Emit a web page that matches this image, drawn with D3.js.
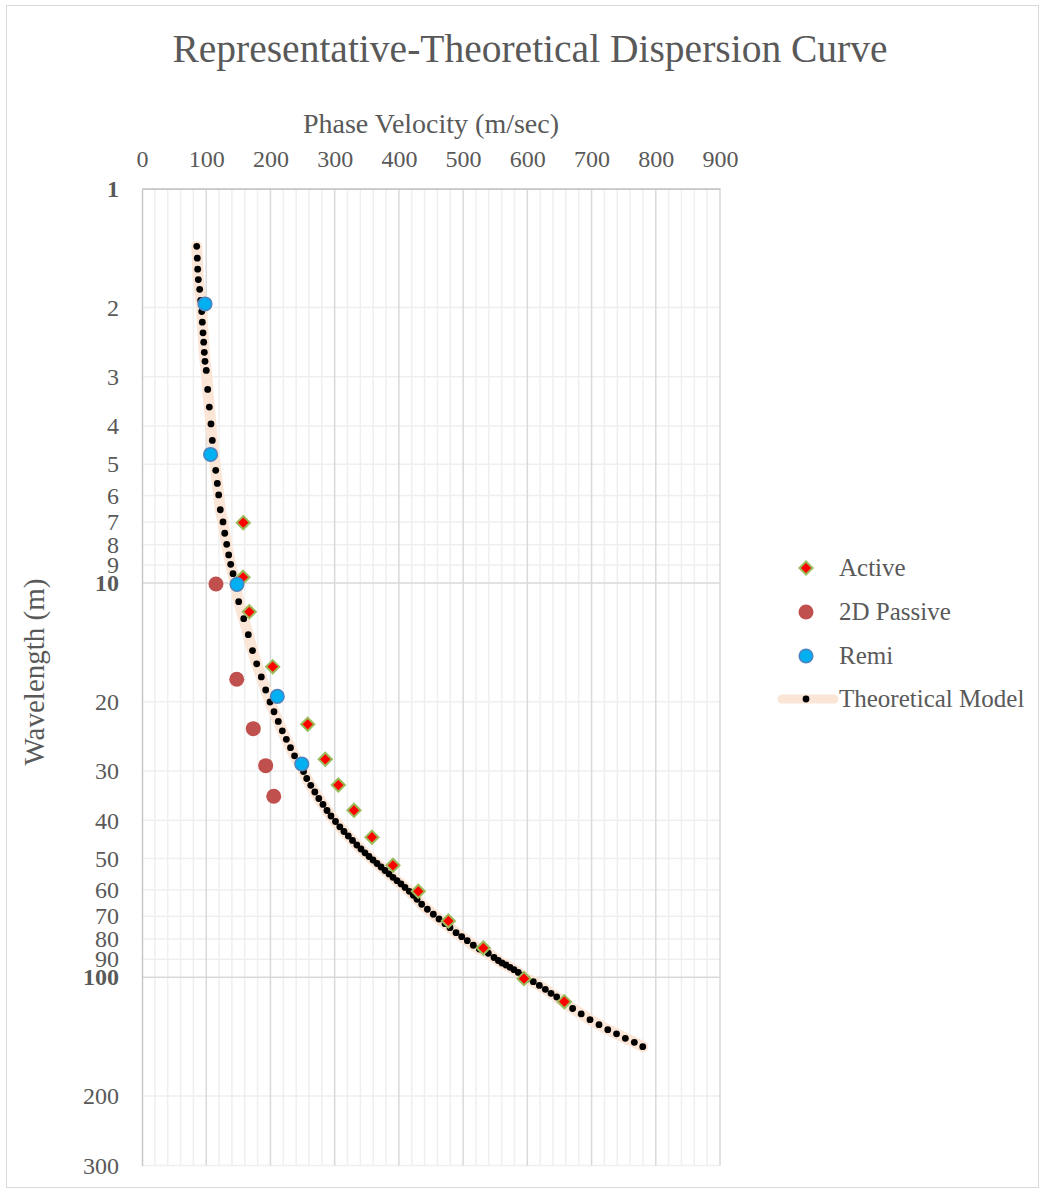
<!DOCTYPE html>
<html>
<head>
<meta charset="utf-8">
<script src="https://cdn.jsdelivr.net/npm/d3@7"></script>
<style>
  html, body { margin: 0; padding: 0; background: #fff; }
  svg { display: block; }
  text { font-family: "Liberation Serif", "Times New Roman", serif; fill: #595959; }
</style>
</head>
<body>
<svg id="chart" width="1041" height="1190"></svg>
<script>
// Theoretical model: wavelength (m) and phase velocity (m/sec)
const modelWavelength = [
  1.40, 1.50, 1.60, 1.70, 1.80, 1.92, 2.05, 2.18, 2.32, 2.45,
  2.60, 2.74, 2.89, 3.23, 3.58, 3.95, 4.35, 4.76, 5.18, 5.59,
  5.98, 6.52, 7.00, 7.48, 7.98, 8.49, 8.97, 9.47, 10.0, 11.15,
  12.32, 13.52, 14.84, 16.03, 17.31, 18.68, 20.04, 21.21, 22.45, 23.71,
  24.92, 26.17, 27.44, 28.70, 30.07, 31.32, 32.60, 33.89, 35.20, 36.45,
  37.76, 38.99, 40.26, 41.53, 42.68, 43.82, 44.98, 46.19, 47.28, 48.35,
  49.40, 50.42, 51.46, 52.52, 53.60, 54.70, 55.77, 56.89, 57.99, 59.18,
  60.52, 61.94, 63.41, 65.29, 67.22, 69.21, 71.15, 73.13, 74.85, 77.07,
  78.89, 80.76, 82.95, 84.77, 86.92, 89.09, 90.66, 91.99, 93.07, 94.33,
  95.65, 97.23, 98.95, 101.0, 102.6, 104.9, 107.3, 109.8, 112.2, 115.8,
  120.0, 123.9, 128.1, 131.9, 135.8, 139.1, 142.8, 146.2, 150.0
];
const modelVelocity = [
  85.2, 86.1, 86.7, 87.7, 89.8, 91.4, 93.0, 93.9, 95.0, 96.1,
  97.0, 98.1, 100.1, 102.3, 104.8, 107.4, 109.5, 112.1, 114.8, 117.3,
  119.4, 121.9, 126.1, 128.8, 131.9, 135.0, 138.1, 141.7, 144.8, 150.6,
  158.4, 165.5, 172.1, 178.6, 185.8, 192.6, 199.3, 205.5, 212.2, 218.5,
  224.7, 231.2, 237.5, 244.5, 251.5, 256.5, 262.8, 269.1, 275.3, 281.8,
  288.1, 294.3, 301.3, 308.0, 314.5, 321.2, 327.8, 334.5, 341.0, 347.2,
  353.5, 359.7, 365.9, 372.2, 378.4, 384.6, 390.8, 397.1, 403.3, 409.5,
  416.2, 422.5, 428.2, 435.5, 444.3, 453.6, 462.5, 471.8, 479.6, 489.0,
  497.8, 506.5, 515.9, 525.2, 539.2, 548.1, 554.8, 560.6, 566.8, 573.0,
  579.2, 585.9, 591.7, 599.5, 609.3, 618.7, 628.0, 636.9, 645.7, 657.9,
  670.5, 683.9, 697.6, 711.6, 725.2, 738.9, 752.6, 766.6, 779.7
];

// Active survey
const activeWavelength = [7.03, 9.67, 11.83, 16.30, 22.82, 28.00, 32.54, 37.72, 44.13, 52.00, 60.52, 71.97, 84.28, 100.8, 115.3];
const activeVelocity   = [157.7, 157.3, 167.1, 203.5, 258.0, 285.4, 305.7, 330.1, 358.1, 390.8, 430.2, 477.0, 531.5, 594.8, 657.6];

// 2D passive survey
const passiveWavelength = [10.06, 17.55, 23.41, 29.06, 34.75];
const passiveVelocity   = [115.2, 147.5, 173.3, 192.6, 205.1];

// ReMi survey
const remiWavelength = [1.96, 4.72, 10.08, 19.39, 28.77];
const remiVelocity   = [98.1, 106.7, 147.9, 210.7, 248.8];

// Axis ticks
const xTicks = [0, 100, 200, 300, 400, 500, 600, 700, 800, 900];
const xMinorTicks = d3.range(0, 901, 20);
const yTicks = [1, 2, 3, 4, 5, 6, 7, 8, 9, 10, 20, 30, 40, 50, 60, 70, 80, 90, 100, 200, 300];
const yMajorTicks = [1, 10, 100];

const legendLabels = ["Active", "2D Passive", "Remi", "Theoretical Model"];

const svg = d3.select("#chart");

// Outer chart frame
svg.append("rect")
  .attr("x", 6.5).attr("y", 5.5)
  .attr("width", 1032).attr("height", 1182)
  .attr("fill", "#fff").attr("stroke", "#D9D9D9").attr("stroke-width", 1);

const x = d3.scaleLinear().domain([0, 900]).range([142, 720]);
const y = d3.scaleLog().domain([1, 300]).range([188.7, 1165.4]);

const plotTop = y(1), plotBottom = y(300), plotLeft = x(0), plotRight = x(900);

// Gridlines
const grid = svg.append("g");
grid.selectAll("line.xminor")
  .data(xMinorTicks.filter(d => d % 100 !== 0))
  .join("line")
  .attr("x1", d => x(d)).attr("x2", d => x(d))
  .attr("y1", plotTop).attr("y2", plotBottom)
  .attr("stroke", "#EFEFEF").attr("stroke-width", 1.5);
grid.selectAll("line.yminor")
  .data(yTicks.filter(d => !yMajorTicks.includes(d)))
  .join("line")
  .attr("x1", plotLeft).attr("x2", plotRight)
  .attr("y1", d => y(d)).attr("y2", d => y(d))
  .attr("stroke", "#EFEFEF").attr("stroke-width", 1.5);
grid.selectAll("line.xmajor")
  .data(xTicks.filter(d => d > 0))
  .join("line")
  .attr("x1", d => x(d)).attr("x2", d => x(d))
  .attr("y1", plotTop).attr("y2", plotBottom)
  .attr("stroke", "#D9D9D9").attr("stroke-width", 1.5);
grid.selectAll("line.ymajor")
  .data(yMajorTicks)
  .join("line")
  .attr("x1", plotLeft).attr("x2", plotRight)
  .attr("y1", d => y(d)).attr("y2", d => y(d))
  .attr("stroke", "#D9D9D9").attr("stroke-width", 1.5);

// Axes
const xAxis = svg.append("g")
  .attr("transform", `translate(0,${plotTop})`)
  .call(d3.axisTop(x).tickValues(xTicks).tickSize(0).tickPadding(22).tickFormat(d3.format("d")));
xAxis.select(".domain").attr("stroke", "#C8C8C8").attr("stroke-width", 1.5);
xAxis.selectAll("text").style("font-size", "24px").attr("fill", "#595959");

const yAxis = svg.append("g")
  .attr("transform", `translate(${plotLeft},0)`)
  .call(d3.axisLeft(y).tickValues(yTicks).tickSize(0).tickPadding(23).tickFormat(d3.format("d")));
yAxis.select(".domain").attr("stroke", "#C8C8C8").attr("stroke-width", 1.5);
yAxis.selectAll("text")
  .style("font-size", "24px")
  .style("font-weight", d => yMajorTicks.includes(d) ? "bold" : "normal")
  .attr("fill", "#595959");

// Titles
svg.append("text")
  .attr("x", 530).attr("y", 62)
  .attr("text-anchor", "middle")
  .style("font-size", "39.5px")
  .text("Representative-Theoretical Dispersion Curve");
svg.append("text")
  .attr("x", 431).attr("y", 133)
  .attr("text-anchor", "middle")
  .style("font-size", "28px")
  .text("Phase Velocity (m/sec)");
svg.append("text")
  .attr("transform", "translate(44,672) rotate(-90)")
  .attr("text-anchor", "middle")
  .style("font-size", "29px")
  .text("Wavelength (m)");

// Theoretical model series
const model = modelWavelength.map((w, i) => ({ w, v: modelVelocity[i] }));
svg.append("path")
  .datum(model)
  .attr("fill", "none")
  .attr("stroke", "#FBE5D6")
  .attr("stroke-width", 11)
  .attr("stroke-linecap", "round")
  .attr("stroke-linejoin", "round")
  .attr("d", d3.line().x(d => x(d.v)).y(d => y(d.w)));
svg.append("g").selectAll("circle")
  .data(model)
  .join("circle")
  .attr("cx", d => x(d.v)).attr("cy", d => y(d.w))
  .attr("r", 3.4).attr("fill", "#000");

// Active series
const diamond = d3.symbol().type(d3.symbolDiamond2).size(110);
svg.append("g").selectAll("path")
  .data(activeWavelength.map((w, i) => ({ w, v: activeVelocity[i] })))
  .join("path")
  .attr("transform", d => `translate(${x(d.v)},${y(d.w)})`)
  .attr("d", diamond)
  .attr("fill", "#FF0000").attr("stroke", "#9BBB59").attr("stroke-width", 2);

// 2D passive series
svg.append("g").selectAll("circle")
  .data(passiveWavelength.map((w, i) => ({ w, v: passiveVelocity[i] })))
  .join("circle")
  .attr("cx", d => x(d.v)).attr("cy", d => y(d.w))
  .attr("r", 7.5).attr("fill", "#C0504D");

// ReMi series
svg.append("g").selectAll("circle")
  .data(remiWavelength.map((w, i) => ({ w, v: remiVelocity[i] })))
  .join("circle")
  .attr("cx", d => x(d.v)).attr("cy", d => y(d.w))
  .attr("r", 6.8).attr("fill", "#00B0F0").attr("stroke", "#4F81BD").attr("stroke-width", 1.5);

// Legend
const legend = svg.append("g");
const rowY = [568, 612, 656, 699];
legend.append("path")
  .attr("transform", `translate(806,${rowY[0]})`)
  .attr("d", diamond)
  .attr("fill", "#FF0000").attr("stroke", "#9BBB59").attr("stroke-width", 2);
legend.append("circle").attr("cx", 806).attr("cy", rowY[1]).attr("r", 7.5).attr("fill", "#C0504D");
legend.append("circle").attr("cx", 806).attr("cy", rowY[2]).attr("r", 6.8)
  .attr("fill", "#00B0F0").attr("stroke", "#4F81BD").attr("stroke-width", 1.5);
legend.append("line")
  .attr("x1", 782).attr("x2", 834).attr("y1", rowY[3]).attr("y2", rowY[3])
  .attr("stroke", "#FBE5D6").attr("stroke-width", 9).attr("stroke-linecap", "round");
legend.append("circle").attr("cx", 806).attr("cy", rowY[3]).attr("r", 3.4).attr("fill", "#000");
legend.selectAll("text")
  .data(legendLabels)
  .join("text")
  .attr("x", 839).attr("y", (d, i) => rowY[i] + 8)
  .style("font-size", "25px")
  .text(d => d);
</script>
</body>
</html>
